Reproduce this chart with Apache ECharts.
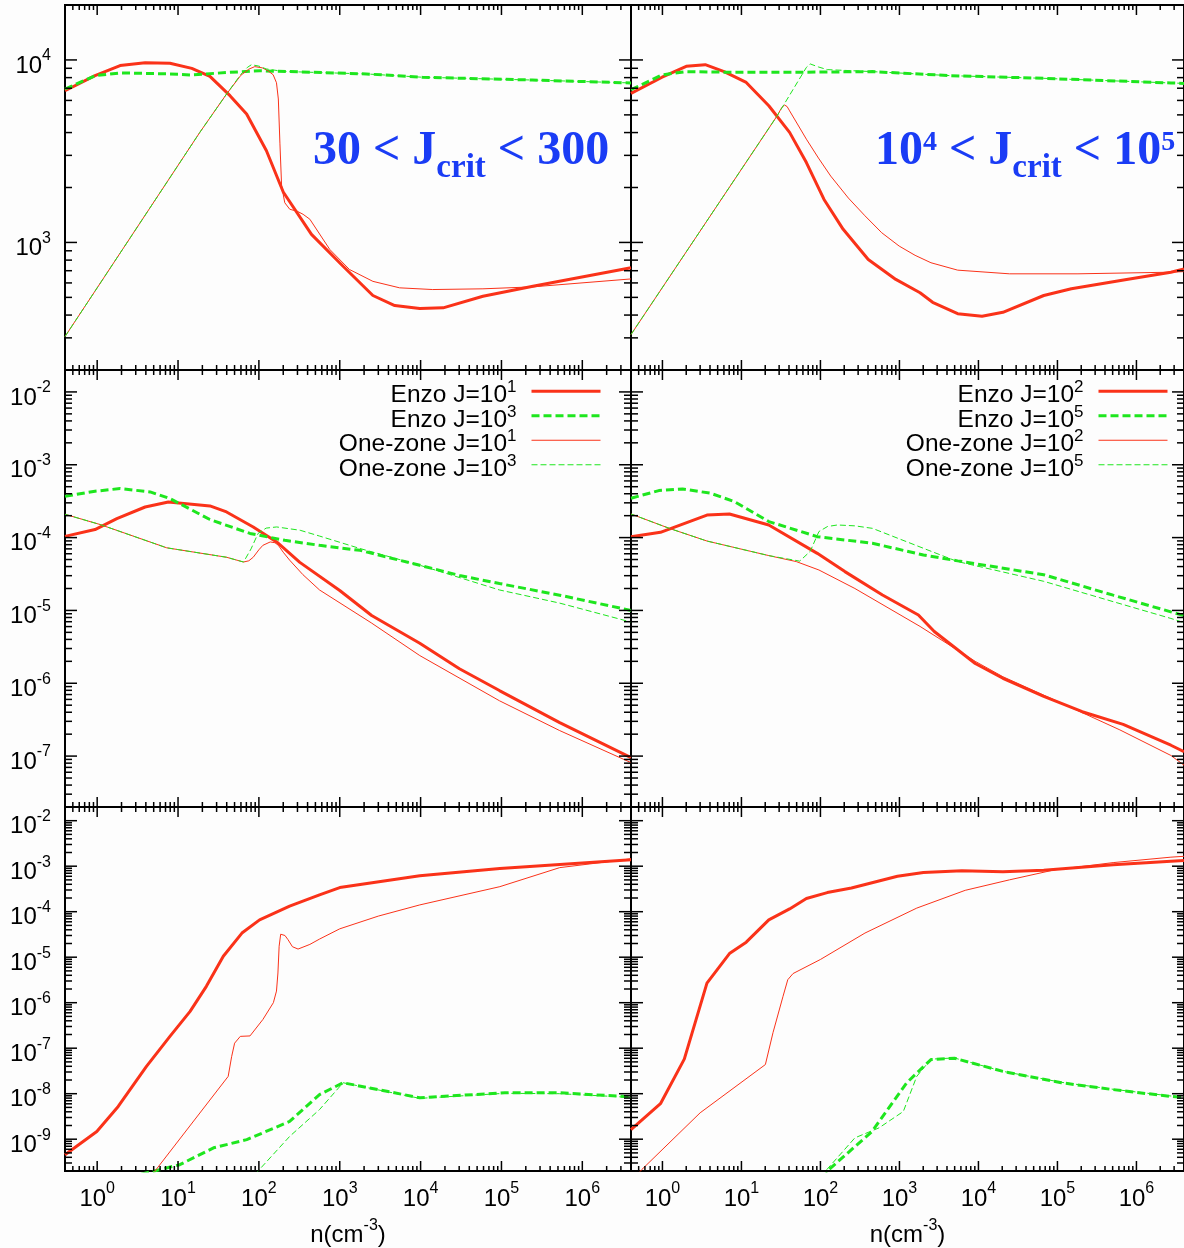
<!DOCTYPE html>
<html>
<head>
<meta charset="utf-8">
<script src="https://cdn.jsdelivr.net/npm/echarts@6/dist/echarts.min.js"></script>
<style>
  html, body { margin: 0; padding: 0; background: #fdfdfd; }
  #chart { width: 1184px; height: 1248px; }
</style>
</head>
<body>
<div id="chart"></div>
<script>
// ---- axis ranges and labelled decades ----
const X_MIN = 0.4, X_MAX = 4e6;
const xTickValues = [1, 10, 100, 1e3, 1e4, 1e5, 1e6];
const tempRange = [200, 2e4];
const tempTicks = [1e3, 1e4];
const elecRange = [2e-8, 2e-2];
const elecTicks = [1e-7, 1e-6, 1e-5, 1e-4, 1e-3, 1e-2];
const h2Range = [2e-10, 2e-2];
const h2Ticks = [1e-9, 1e-8, 1e-7, 1e-6, 1e-5, 1e-4, 1e-3, 1e-2];

// ---- temperature (K) vs n ----
const tempEnzoJ1 = [[0.4,6780],[0.94,8200],[1.92,9310],[3.92,9640],[7.94,9590],[14.8,8990],[24.8,8130],[43.9,6370],[70.5,5050],[124,3180],[200,1890],[447,1107],[1100,741],[2570,512],[4790,451],[9770,434],[1.9e4,438],[5.9e4,507],[2.45e5,575],[4e6,726]];
const tempEnzoJ3 = [[0.4,6930],[0.94,8200],[1.92,8490],[7.94,8380],[14.1,8280],[43.9,8550],[102,8730],[2140,8380],[1.05e4,8040],[2.4e5,7760],[4e6,7480]];
const tempOneZoneJ1 = [[0.4,305],[18.6,4010],[39.8,6500],[60,8250],[75,8900],[89,9190],[110,9050],[129,8730],[150,8300],[165,7500],[174,6110],[182,3500],[191,2040],[209,1650],[241,1520],[300,1480],[352,1426],[427,1340],[752,916],[1318,711],[2570,612],[5500,564],[1.41e4,552],[5.9e4,557],[2.45e5,571],[4e6,631]];
const tempOneZoneJ3 = [[0.4,305],[18.6,4010],[39.8,6500],[60,8350],[72,9100],[81,9420],[100,9250],[123,8930],[200,8650],[2140,8380],[1.05e4,8040],[2.4e5,7760],[4e6,7480]];

const tempEnzoJ2 = [[0.4,6560],[0.99,8040],[2.0,9230],[3.48,9420],[6.04,8630],[11.5,7530],[22.2,5610],[40.7,4010],[66.4,2740],[111,1720],[194,1180],[403,807],[900,627],[1824,530],[2630,470],[5458,407],[1.11e4,394],[2.04e4,414],[6.71e4,512],[1.5e5,557],[7.5e5,627],[2.73e6,687],[4e6,715]];
const tempEnzoJ5 = [[0.4,6870],[0.99,8280],[2.0,8630],[8.17,8550],[37,8550],[455,8630],[4498,8200],[6.71e4,7930],[2.73e6,7480],[4e6,7440]];
const tempOneZoneJ2 = [[0.4,313],[28.3,4940],[32.5,5500],[35.2,5660],[37.9,5550],[40.7,5260],[52,4400],[66.4,3680],[94.4,2900],[135,2310],[226,1750],[366,1400],[597,1130],[993,955],[1578,850],[2506,774],[5458,705],[2.47e4,673],[1.82e5,673],[2.73e6,687],[4e6,692]];
const tempOneZoneJ5 = [[0.4,313],[28.3,4940],[66.4,9100],[74.1,9510],[94.4,9150],[122,8850],[455,8630],[4498,8200],[6.71e4,7930],[2.73e6,7480],[4e6,7440]];

// ---- electron fraction vs n ----
const elecEnzoJ1 = [[0.4,1.04e-4],[0.94,1.29e-4],[1.75,1.82e-4],[3.92,2.63e-4],[7.59,3.08e-4],[24.8,2.72e-4],[39.8,2.25e-4],[85.1,1.40e-4],[166,8.71e-5],[321,4.57e-5],[1000,1.88e-5],[2480,8.51e-6],[9770,3.55e-6],[3.02e4,1.58e-6],[9.44e4,7.94e-7],[5.25e5,2.88e-7],[4e6,9.55e-8]];
const elecEnzoJ3 = [[0.4,3.69e-4],[0.94,4.33e-4],[1.92,4.71e-4],[4.51,4.24e-4],[7.94,3.44e-4],[24.8,1.77e-4],[77.6,1.14e-4],[209,9.18e-5],[562,7.83e-5],[1780,6.68e-5],[9770,4.17e-5],[3.02e4,3.02e-5],[9.44e4,2.34e-5],[5.25e5,1.62e-5],[4e6,1.0e-5]];
const elecOneZoneJ1 = [[0.4,2.09e-4],[1.09,1.51e-4],[7.24,7.24e-5],[39.8,5.37e-5],[64.6,4.62e-5],[75,4.8e-5],[85.1,5.37e-5],[100,6.8e-5],[112,7.83e-5],[138,8.71e-5],[158,8.5e-5],[174,7.83e-5],[200,6.3e-5],[240,4.9e-5],[350,3.1e-5],[562,1.91e-5],[2450,6.76e-6],[9770,2.4e-6],[9.44e4,5.75e-7],[5.25e5,2.24e-7],[4e6,8.13e-8]];
const elecOneZoneJ3 = [[0.4,2.09e-4],[1.09,1.51e-4],[7.24,7.24e-5],[39.8,5.37e-5],[64.6,4.62e-5],[80,7.0e-5],[97.7,1.14e-4],[123,1.35e-4],[166,1.40e-4],[324,1.26e-4],[562,1.05e-4],[1780,7.08e-5],[9770,4.17e-5],[9.44e4,1.91e-5],[5.25e5,1.26e-5],[4e6,6.92e-6]];

const elecEnzoJ2 = [[0.4,1.03e-4],[0.944,1.18e-4],[3.66,2.04e-4],[7.05,2.11e-4],[22.2,1.49e-4],[91.2,6.08e-5],[204,3.41e-5],[610,1.63e-5],[1738,8.65e-6],[2761,5.13e-6],[9106,1.87e-6],[2.04e4,1.17e-6],[6.71e4,6.61e-7],[2.06e5,4.07e-7],[6.79e5,2.72e-7],[2.73e6,1.41e-7],[4e6,1.15e-7]];
const elecEnzoJ5 = [[0.4,3.47e-4],[0.9,4.42e-4],[1.8,4.66e-4],[4.03,4.07e-4],[8.17,3.12e-4],[22.2,1.66e-4],[91.2,1.03e-4],[455,8.36e-5],[2011,5.77e-5],[5458,4.79e-5],[6.71e4,3.09e-5],[5.07e5,1.62e-5],[2.73e6,9.55e-6],[4e6,8.5e-6]];
const elecOneZoneJ2 = [[0.4,2.11e-4],[1.22,1.34e-4],[3.66,8.97e-5],[22.2,5.66e-5],[49.5,4.68e-5],[95.7,3.59e-5],[273,2.0e-5],[1824,6.03e-6],[9106,2.0e-6],[2.04e4,1.23e-6],[9.2e4,5.89e-7],[6.17e5,2.29e-7],[2.73e6,1.02e-7],[4e6,7.5e-8]];
const elecOneZoneJ5 = [[0.4,2.11e-4],[1.22,1.34e-4],[3.66,8.97e-5],[22.2,5.66e-5],[54.6,4.75e-5],[74.1,6.46e-5],[95.7,1.21e-4],[123,1.42e-4],[164,1.49e-4],[272,1.45e-4],[455,1.34e-4],[2011,7.13e-5],[5458,4.68e-5],[6.71e4,2.51e-5],[5.07e5,1.32e-5],[2.73e6,7.76e-6],[4e6,6.8e-6]];

// ---- H2 fraction vs n ----
const h2EnzoJ1 = [[0.4,4.57e-10],[0.99,1.48e-9],[1.82,5.25e-9],[4.07,3.98e-8],[7.94,1.82e-7],[14.1,6.46e-7],[22.4,2.29e-6],[36.3,1.05e-5],[61.7,3.39e-5],[102,6.61e-5],[240,1.32e-4],[562,2.34e-4],[1000,3.39e-4],[9770,6.17e-4],[9.55e4,8.91e-4],[4e6,1.38e-3]];
const h2EnzoJ3 = [[3.5,1.7e-10],[10.5,2.75e-10],[27.5,6.46e-10],[70.8,9.77e-10],[240,2.45e-9],[562,9.55e-9],[1100,1.74e-8],[9770,8.13e-9],[1.1e5,1.05e-8],[5.25e5,1.05e-8],[4e6,8.51e-9]];
const h2OneZoneJ1 = [[4,1.1e-10],[41.7,2.4e-8],[46,6.5e-8],[50.1,1.29e-7],[58.9,1.82e-7],[77.6,1.86e-7],[112,4.27e-7],[151,1.0e-6],[165,1.8e-6],[172,4.5e-6],[178,1.74e-5],[186,3.2e-5],[195,3.51e-5],[210,3.0e-5],[229,2.43e-5],[260,1.7e-5],[305,1.51e-5],[427,1.91e-5],[562,2.5e-5],[1000,4.2e-5],[3000,8.0e-5],[9770,1.41e-4],[9.55e4,3.55e-4],[5.25e5,9.3e-4],[4e6,1.45e-3]];
const h2OneZoneJ3 = [[90,1.7e-10],[97.7,2.0e-10],[240,1.15e-9],[562,4.47e-9],[1100,1.74e-8],[9770,7.9e-9],[1.1e5,1.02e-8],[5.25e5,1.0e-8],[4e6,8.3e-9]];

const h2EnzoJ2 = [[0.4,1.62e-9],[0.944,6.03e-9],[1.89,5.75e-8],[3.66,2.69e-6],[7.05,1.2e-5],[11.5,2.14e-5],[22.2,6.61e-5],[40.7,1.15e-4],[66.4,1.95e-4],[122,2.63e-4],[247,3.31e-4],[944,6.03e-4],[2011,7.24e-4],[6166,7.94e-4],[2.04e4,7.59e-4],[6.71e4,8.13e-4],[5.07e5,1.07e-3],[2.73e6,1.29e-3],[4e6,1.33e-3]];
const h2EnzoJ5 = [[109,1.3e-10],[128,2.14e-10],[450,1.48e-9],[1236,1.74e-8],[2506,5.62e-8],[4955,6.03e-8],[2.04e4,3.09e-8],[1.12e5,1.74e-8],[5.07e5,1.23e-8],[2.73e6,8.71e-9],[4e6,8.3e-9]];
const h2OneZoneJ2 = [[0.453,1.5e-10],[0.546,2.14e-10],[3.0,3.8e-9],[20.1,4.37e-8],[25.1,2.2e-7],[33.6,1.38e-6],[38.6,3.2e-6],[45,4.37e-6],[100,8.91e-6],[366,3.39e-5],[1656,1.2e-4],[6808,2.95e-4],[2.47e4,5.01e-4],[9.2e4,8.32e-4],[5.07e5,1.2e-3],[2.73e6,1.58e-3],[4e6,1.65e-3]];
const h2OneZoneJ5 = [[109,1.4e-10],[116,2.0e-10],[273,1.07e-9],[553,1.78e-9],[1120,4.07e-9],[1656,2.4e-8],[2506,5.75e-8],[4955,6.1e-8],[2.04e4,3.1e-8],[1.12e5,1.78e-8],[5.07e5,1.25e-8],[2.73e6,8.9e-9],[4e6,8.5e-9]];

// ---- series names (legend) ----
const leftNames = ['Enzo J=10^1', 'Enzo J=10^3', 'One-zone J=10^1', 'One-zone J=10^3'];
const rightNames = ['Enzo J=10^2', 'Enzo J=10^5', 'One-zone J=10^2', 'One-zone J=10^5'];

// ---- styling ----
const RED = '#fa3219';
const GREEN = '#1ee61e';
const FONT = '"Liberation Sans", Arial, sans-serif';
const SERIF = '"Liberation Serif", "Times New Roman", serif';

const styleKeys = ['enzoRed', 'enzoGreen', 'oneRed', 'oneGreen'];
const lineStyles = {
  enzoRed:    { color: RED,   width: 3, type: 'solid' },
  enzoGreen:  { color: GREEN, width: 3, type: [8, 4] },
  oneRed:     { color: RED,   width: 1, type: 'solid' },
  oneGreen:   { color: GREEN, width: 1, type: [6, 3] }
};

// panel frames: 3 rows x 2 columns, shared borders
const COL_LEFT = [65, 631];
const COL_WIDTH = 566;
const ROW_TOP = [5, 370, 807];
const ROW_HEIGHT = [365, 437, 364];
const rowRanges = [tempRange, elecRange, h2Range];
const rowTicks = [tempTicks, elecTicks, h2Ticks];

const panels = [
  { row: 0, col: 0, names: leftNames,  curves: [tempEnzoJ1, tempEnzoJ3, tempOneZoneJ1, tempOneZoneJ3] },
  { row: 0, col: 1, names: rightNames, curves: [tempEnzoJ2, tempEnzoJ5, tempOneZoneJ2, tempOneZoneJ5] },
  { row: 1, col: 0, names: leftNames,  curves: [elecEnzoJ1, elecEnzoJ3, elecOneZoneJ1, elecOneZoneJ3] },
  { row: 1, col: 1, names: rightNames, curves: [elecEnzoJ2, elecEnzoJ5, elecOneZoneJ2, elecOneZoneJ5] },
  { row: 2, col: 0, names: leftNames,  curves: [h2EnzoJ1, h2EnzoJ3, h2OneZoneJ1, h2OneZoneJ3] },
  { row: 2, col: 1, names: rightNames, curves: [h2EnzoJ2, h2EnzoJ5, h2OneZoneJ2, h2OneZoneJ5] }
];

const tickRich = {
  b: { fontSize: 24, lineHeight: 24, fontFamily: FONT, color: '#000', verticalAlign: 'top', padding: [6, 0, 0, 0] },
  s: { fontSize: 16, lineHeight: 16, fontFamily: FONT, color: '#000', verticalAlign: 'top' }
};
const powerLabel = v => '{b|10}{s|' + Math.round(Math.log10(v)) + '}';

// inward major/minor ticks on all four sides of a panel
function tickLayer(gi, yRange) {
  return {
    type: 'custom', xAxisIndex: gi, yAxisIndex: gi, silent: true, clip: false, z: 5,
    data: [[1, yRange[0] * 10]],
    renderItem: function (params, api) {
      const cs = params.coordSys;
      const L = cs.x, T = cs.y, R = cs.x + cs.width, B = cs.y + cs.height;
      const kids = [];
      const seg = (x1, y1, x2, y2) => kids.push({ type: 'line', shape: { x1, y1, x2, y2 }, style: { stroke: '#000', lineWidth: 1.5 } });
      for (let k = Math.floor(Math.log10(X_MIN)); k <= Math.ceil(Math.log10(X_MAX)); k++) {
        for (let m = 1; m <= 9; m++) {
          const v = m * Math.pow(10, k);
          if (v < X_MIN || v > X_MAX) continue;
          const x = api.coord([v, yRange[0]])[0];
          const len = m === 1 ? 10 : 5;
          seg(x, B, x, B - len);
          seg(x, T, x, T + len);
        }
      }
      for (let k = Math.floor(Math.log10(yRange[0])); k <= Math.ceil(Math.log10(yRange[1])); k++) {
        for (let m = 1; m <= 9; m++) {
          const v = m * Math.pow(10, k);
          if (v < yRange[0] || v > yRange[1]) continue;
          const y = api.coord([X_MIN, v])[1];
          const len = m === 1 ? 12 : 7;
          seg(L, y, L + len, y);
          seg(R, y, R - len, y);
        }
      }
      return { type: 'group', children: kids };
    }
  };
}

const grid = [], xAxis = [], yAxis = [], series = [];
panels.forEach((p, gi) => {
  grid.push({
    left: COL_LEFT[p.col], top: ROW_TOP[p.row], width: COL_WIDTH, height: ROW_HEIGHT[p.row],
    show: true, borderColor: '#000', borderWidth: 2, backgroundColor: 'transparent', containLabel: false
  });
  const isBottom = p.row === 2, isLeft = p.col === 0;
  xAxis.push({
    type: 'log', logBase: 10, gridIndex: gi, min: X_MIN, max: X_MAX,
    axisLine: { show: false }, axisTick: { show: false }, splitLine: { show: false },
    axisLabel: isBottom ? { show: true, customValues: xTickValues, formatter: powerLabel, margin: 10, rich: tickRich } : { show: false },
    name: isBottom ? '{a|n(cm}{s|-3}{a|)}' : '',
    nameLocation: 'middle', nameGap: 47,
    nameTextStyle: { rich: {
      a: { fontSize: 24, lineHeight: 24, fontFamily: FONT, color: '#000', verticalAlign: 'top', padding: [5, 0, 0, 0] },
      s: { fontSize: 16, lineHeight: 16, fontFamily: FONT, color: '#000', verticalAlign: 'top' }
    } }
  });
  const yr = rowRanges[p.row];
  yAxis.push({
    type: 'log', logBase: 10, gridIndex: gi, min: yr[0], max: yr[1],
    axisLine: { show: false }, axisTick: { show: false }, splitLine: { show: false },
    axisLabel: isLeft ? { show: true, customValues: rowTicks[p.row], formatter: powerLabel, margin: 14, rich: tickRich } : { show: false }
  });
  p.curves.forEach((data, ci) => {
    const ls = lineStyles[styleKeys[ci]];
    series.push({
      name: p.names[ci], type: 'line', xAxisIndex: gi, yAxisIndex: gi, data,
      showSymbol: false, symbol: 'none', clip: true, silent: true, smooth: false,
      lineStyle: { color: ls.color, width: ls.width, type: ls.type },
      itemStyle: { color: ls.color },
      z: ci >= 2 ? 3 : 2
    });
  });
  series.push(tickLayer(gi, yr));
});

const legendRich = {
  b: { fontSize: 24.5, lineHeight: 24.5, fontFamily: FONT, color: '#000', verticalAlign: 'top', padding: [4, 0, 0, 0] },
  s: { fontSize: 17, lineHeight: 17, fontFamily: FONT, color: '#000', verticalAlign: 'top', padding: [0, 10, 0, 0] }
};
const legendFormatter = name => { const parts = name.split('^'); return '{b|' + parts[0] + '}{s|' + parts[1] + '}'; };
const legendItems = names => names.map((name, i) => {
  const ls = lineStyles[styleKeys[i]];
  return {
    name,
    lineStyle: { color: ls.color, width: ls.width, type: ls.type },
    itemStyle: { color: 'rgba(0,0,0,0)', borderWidth: 0, opacity: 0 }
  };
});
const legendBase = {
  orient: 'vertical', align: 'right', top: 379, itemWidth: 69, itemHeight: 14, itemGap: -4.5,
  padding: 0, selectedMode: false, formatter: legendFormatter, textStyle: { rich: legendRich }
};

const titleRich = {
  m: { fontSize: 48, lineHeight: 48, fontFamily: SERIF, fontWeight: 'bold', color: '#1a3cf5', verticalAlign: 'top' },
  sub: { fontSize: 33, lineHeight: 33, fontFamily: SERIF, fontWeight: 'bold', color: '#1a3cf5', verticalAlign: 'top', padding: [24, 0, 0, 0] },
  sup: { fontSize: 28, lineHeight: 28, fontFamily: SERIF, fontWeight: 'bold', color: '#1a3cf5', verticalAlign: 'top', padding: [1, 0, 0, 0] }
};

const chart = echarts.init(document.getElementById('chart'), null, { renderer: 'canvas' });
chart.setOption({
  backgroundColor: '#fdfdfd',
  animation: false,
  title: [
    { text: '{m|30 < J}{sub|crit}{m| < 300}', left: 313, top: 128, padding: 0, textStyle: { rich: titleRich } },
    { text: '{m|10}{sup|4}{m| < J}{sub|crit}{m| < 10}{sup|5}', left: 875, top: 128, padding: 0, textStyle: { rich: titleRich } }
  ],
  legend: [
    Object.assign({}, legendBase, { data: legendItems(leftNames), right: 582 }),
    Object.assign({}, legendBase, { data: legendItems(rightNames), right: 15 })
  ],
  grid, xAxis, yAxis, series
});
</script>
</body>
</html>
